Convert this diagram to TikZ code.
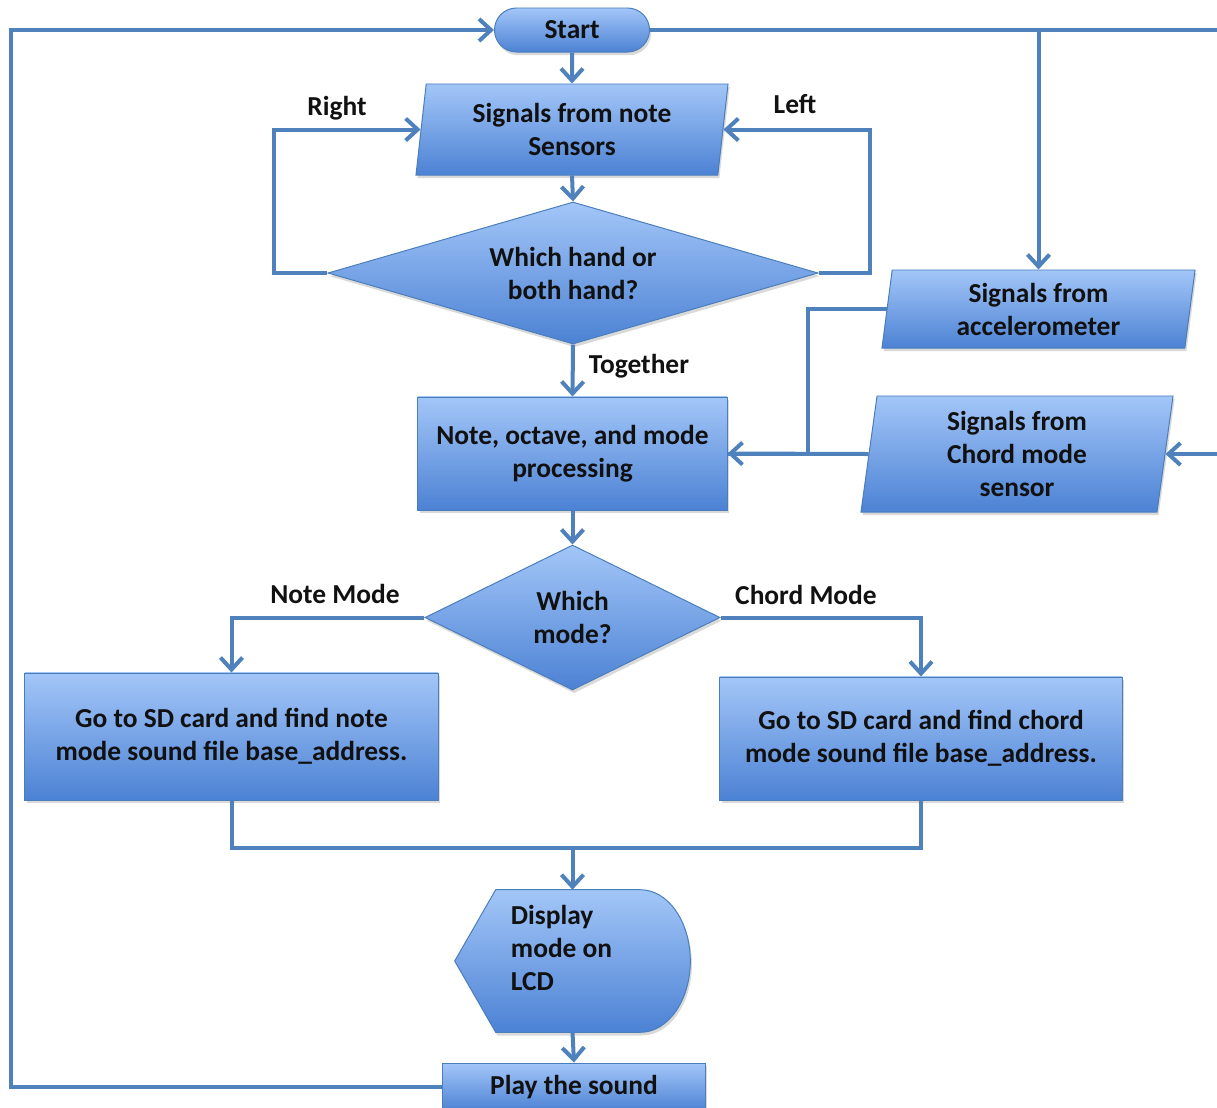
\documentclass[tikz,border=0pt]{standalone}
\usepackage{fontspec}
\setmainfont{Carlito}
\usetikzlibrary{arrows.meta,positioning,calc,shapes.geometric,shadows,backgrounds}
\definecolor{flowline}{RGB}{79,129,189}
\definecolor{boxtop}{RGB}{163,198,248}
\definecolor{boxmid}{RGB}{122,167,236}
\definecolor{boxbot}{RGB}{76,130,212}
\definecolor{boxedge}{RGB}{74,126,187}
\definecolor{inktext}{RGB}{17,17,17}

\begin{document}
\begin{tikzpicture}[x=0.025cm, y=-0.025cm, >={Straight Barb[length=0.3cm,width=0.55cm]}]
\tikzstyle{every node}=[font=\fontsize{19.5pt}{23.5pt}\selectfont\bfseries, text=inktext]
\tikzstyle{blue box}=[draw=boxedge, line width=0.7pt, top color=boxtop, middle color=boxmid, bottom color=boxbot,
  drop shadow={shadow xshift=0.04cm, shadow yshift=-0.08cm, opacity=0.3}, align=center, inner sep=2pt]
\tikzstyle{terminal}=[blue box, rectangle, rounded corners=0.55cm, minimum width=3.875cm, minimum height=1.1cm]
\tikzstyle{process}=[blue box, rectangle]
\tikzstyle{io}=[blue box, trapezium, trapezium left angle=80, trapezium right angle=100, trapezium stretches body]
\tikzstyle{decision}=[blue box, diamond, inner sep=0pt]
\tikzstyle{flow}=[->, draw=flowline, line width=0.1cm]
\tikzstyle{link}=[-, draw=flowline, line width=0.1cm]
\useasboundingbox (0,0) rectangle (1217,1107);

\node[terminal]  (start)    at (572,30)      {Start};
\node[io, minimum width=7.8cm, minimum height=2.275cm]    (sensors)  at (572,129.5)   {Signals from note\\Sensors};
\node[decision, aspect=3.45, minimum width=12.25cm, minimum height=3.55cm] (hand) at (573,273)  {Which hand or\\both hand?};
\node[process, minimum width=7.725cm, minimum height=2.825cm] (proc) at (572.5,453.5) {Note, octave, and mode\\processing};
\node[io, minimum width=7.825cm, minimum height=1.95cm]   (accel)    at (1038.5,309)  {Signals from\\accelerometer};
\node[io, minimum width=7.8cm, minimum height=2.9cm]      (chord)    at (1017,454)    {Signals from\\Chord mode\\sensor};
\node[decision, aspect=2.03, minimum width=7.375cm, minimum height=3.625cm] (mode) at (572.5,617.5) {Which\\mode?};
\node[process, minimum width=10.325cm, minimum height=3.175cm] (notefile) at (231.5,736.5) {Go to SD card and find note\\mode sound file base\_address.};
\node[process, minimum width=10.05cm, minimum height=3.075cm]  (chordfile) at (921,738.5) {Go to SD card and find chord\\mode sound file base\_address.};
\node[minimum width=5.875cm, minimum height=3.55cm]       (lcd)      at (572.5,961)   {};
\node[anchor=west, align=left]                            (lcdtext)  at (506,948)     {Display\\mode on\\LCD};
\node[process, minimum width=6.55cm, minimum height=1.2cm] (play)    at (574,1087)    {Play the sound};

% display shape
\begin{scope}[on background layer]
\path[blue box] (lcd.west) -- ($(lcd.north west)+(41,0)$) -- ($(lcd.north east)+(-50,0)$)
  .. controls ($(lcd.north east)+(-22,0)$) and ($(lcd.east)+(0,-39)$) .. (lcd.east)
  .. controls ($(lcd.east)+(0,39)$) and ($(lcd.south east)+(-22,0)$) .. ($(lcd.south east)+(-50,0)$)
  -- ($(lcd.south west)+(41,0)$) -- cycle;
\end{scope}

% branch labels
\node (right)    at (337,108) {Right};
\node (left)     at (795,104) {Left};
\node (together) at (639,366) {Together};
\node (notemode) at (335,594) {Note Mode};
\node (chordmode) at (806,595) {Chord Mode};

\coordinate (merge)  at (572.5,848);
\coordinate (branch) at (start.east -| accel.north);

\path
 (start.south)   edge[flow] (sensors.north)
 (sensors.south) edge[flow] (hand.north)
 (hand.south)    edge[flow] (proc.north)
 (chord.west)    edge[flow] (proc.east)
 (proc.south)    edge[flow] (mode.north)
 (merge)         edge[flow] (lcd.north)
 (lcd.south)     edge[flow] (play.north)
 (branch)        edge[flow] (accel.north);

\draw[flow] (hand.west) -- ++(-53,0) |- (sensors.west);
\draw[flow] (hand.east) -- ++(51,0) |- (sensors.east);
\draw[flow] (start.east) -- (1224,30) |- (chord.east);
\draw[link] (accel.west) -- ++(-79,0) |- (proc.east);
\draw[flow] (mode.west) -| (notefile.north);
\draw[flow] (mode.east) -| (chordfile.north);
\draw[link] (notefile.south) |- (merge) -| (chordfile.south);
\draw[flow] (play.west) -- ++(-431,0) |- (start.west);
\end{tikzpicture}
\end{document}
